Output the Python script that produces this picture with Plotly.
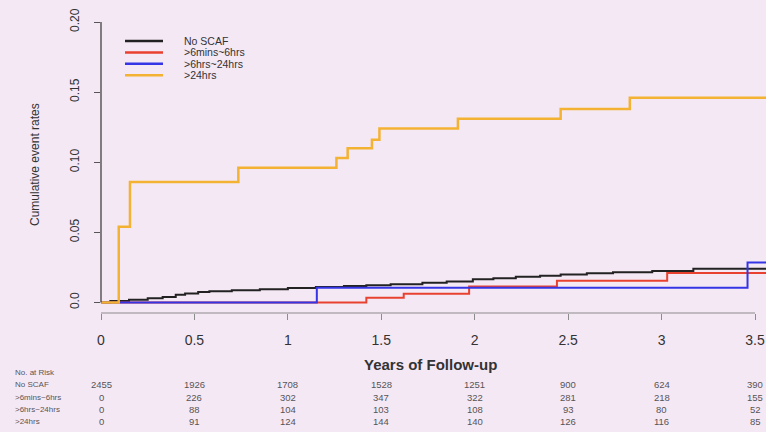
import plotly.graph_objects as go

# Kaplan-Meier style cumulative event curves by SCAF duration group
groups = ["No SCAF", ">6mins~6hrs", ">6hrs~24hrs", ">24hrs"]
colors = ["#222222", "#E8412F", "#3535E6", "#F4B233"]

no_scaf_t = [0, 0.05, 0.15, 0.25, 0.33, 0.40, 0.45, 0.52, 0.58, 0.70, 0.85, 1.00,
             1.15, 1.30, 1.42, 1.55, 1.72, 1.85, 1.99, 2.10, 2.22, 2.35, 2.46, 2.60,
             2.74, 2.95, 3.17, 3.56]
no_scaf_v = [0, 0.001, 0.002, 0.003, 0.004, 0.0055, 0.0065, 0.0075, 0.008, 0.0088,
             0.0095, 0.0103, 0.011, 0.0117, 0.0123, 0.013, 0.014, 0.015, 0.0165,
             0.0172, 0.0183, 0.019, 0.020, 0.0208, 0.0216, 0.0225, 0.024, 0.024]

min6_t = [0, 1.42, 1.62, 1.97, 2.44, 3.03, 3.56]
min6_v = [0, 0.0033, 0.0062, 0.0114, 0.0155, 0.021, 0.021]

hr6_t = [0, 1.155, 3.46, 3.56]
hr6_v = [0, 0.0105, 0.0285, 0.0285]

hr24_t = [0, 0.095, 0.155, 0.735, 1.26, 1.32, 1.45, 1.49, 1.91, 2.46, 2.83, 3.56]
hr24_v = [0, 0.054, 0.086, 0.096, 0.103, 0.110, 0.116, 0.124, 0.131, 0.138, 0.146, 0.146]

series_t = [no_scaf_t, min6_t, hr6_t, hr24_t]
series_v = [no_scaf_v, min6_v, hr6_v, hr24_v]
widths = [2, 2, 2, 2.5]

# Number at risk table
risk_times = [0, 0.5, 1, 1.5, 2, 2.5, 3, 3.5]
risk_no_scaf = [2455, 1926, 1708, 1528, 1251, 900, 624, 390]
risk_min6 = [0, 226, 302, 347, 322, 281, 218, 155]
risk_hr6 = [0, 88, 104, 103, 108, 93, 80, 52]
risk_hr24 = [0, 91, 124, 144, 140, 126, 116, 85]
risk_rows = [risk_no_scaf, risk_min6, risk_hr6, risk_hr24]
risk_labels = ["No SCAF", ">6mins~6hrs", ">6hrs~24hrs", ">24hrs"]

x_ticks = [0, 0.5, 1, 1.5, 2, 2.5, 3, 3.5]
x_ticktext = ["0", "0.5", "1", "1.5", "2", "2.5", "3", "3.5"]
y_ticks = [0.0, 0.05, 0.10, 0.15, 0.20]
y_ticktext = ["0.0", "0.05", "0.10", "0.15", "0.20"]

W, H = 766, 432
ML, MR, MT, MB = 101, 0, 11, 119
PW, PH = W - ML - MR, H - MT - MB
BG = "#F5E8F5"


def px(x):
    return (x - ML) / PW


def py(y):
    return (H - MB - y) / PH


fig = go.Figure()
for name, t, v, c, w in zip(groups, series_t, series_v, colors, widths):
    fig.add_trace(go.Scatter(x=t, y=v, mode="lines", name=name,
                             line=dict(color=c, width=w, shape="hv"),
                             showlegend=False))

shapes = [
    # y axis line from 0 to 0.20
    dict(type="line", xref="paper", yref="y", x0=0, x1=0, y0=0, y1=0.2,
         line=dict(color="#333333", width=1.2)),
    # x axis line from 0 to 3.5
    dict(type="line", xref="x", yref="paper", x0=0, x1=3.5, y0=0, y1=0,
         line=dict(color="#8c8c8c", width=1.2)),
]

annotations = []
# legend block
leg_y = [41, 52.4, 63.8, 75.2]
for name, c, yy in zip(groups, colors, leg_y):
    shapes.append(dict(type="line", xref="paper", yref="paper",
                       x0=px(125), x1=px(163), y0=py(yy), y1=py(yy),
                       line=dict(color=c, width=2.5)))
    annotations.append(dict(text=name, xref="paper", yref="paper",
                            x=px(182), y=py(yy), xanchor="left", yanchor="middle",
                            showarrow=False,
                            font=dict(size=10.5, color="#333333")))

# axis titles
annotations.append(dict(text="Cumulative event rates", xref="paper", yref="paper",
                        x=px(35), y=py(165), textangle=-90, showarrow=False,
                        xanchor="center", yanchor="middle",
                        font=dict(size=12, color="#333333")))
annotations.append(dict(text="<b>Years of Follow-up</b>", xref="paper", yref="paper",
                        x=px(430), y=py(364), showarrow=False,
                        xanchor="center", yanchor="middle",
                        font=dict(size=15, color="#333333")))

# number at risk table
annotations.append(dict(text="No. at Risk", xref="paper", yref="paper",
                        x=px(13), y=py(372), xanchor="left", yanchor="middle",
                        showarrow=False, font=dict(size=8, color="#555555")))
row_y = [385, 397, 409, 421]
for lab, row, yy in zip(risk_labels, risk_rows, row_y):
    annotations.append(dict(text=lab, xref="paper", yref="paper",
                            x=px(13), y=py(yy), xanchor="left", yanchor="middle",
                            showarrow=False, font=dict(size=8, color="#555555")))
    for t, n in zip(risk_times, row):
        annotations.append(dict(text=str(n), xref="x", yref="paper",
                                x=t, y=py(yy), xanchor="center", yanchor="middle",
                                showarrow=False,
                                font=dict(size=9.5, color="#555555")))

fig.update_layout(
    width=W, height=H,
    margin=dict(l=ML, r=MR, t=MT, b=MB, pad=0),
    paper_bgcolor=BG, plot_bgcolor=BG,
    font=dict(family="Liberation Sans, Arial, sans-serif", color="#333333"),
    shapes=shapes, annotations=annotations,
    xaxis=dict(range=[0, 3.5 + 11 / 186.9], showgrid=False, zeroline=False,
               showline=False, tickmode="array", tickvals=x_ticks,
               ticktext=x_ticktext, ticks="outside", ticklen=6, tickwidth=1,
               tickcolor="#8c8c8c", tickfont=dict(size=14, color="#333333"),
               ticklabelstandoff=8, fixedrange=True),
    yaxis=dict(range=[-10.5 / 1402, 0.2 + 11 / 1402], showgrid=False,
               zeroline=False, showline=False, tickmode="array",
               tickvals=y_ticks, ticktext=y_ticktext, ticks="outside",
               ticklen=6, tickwidth=1, tickcolor="#555555",
               tickangle=-90, tickfont=dict(size=12, color="#333333"),
               ticklabelstandoff=10, fixedrange=True),
)

fig.write_html("out.html")
